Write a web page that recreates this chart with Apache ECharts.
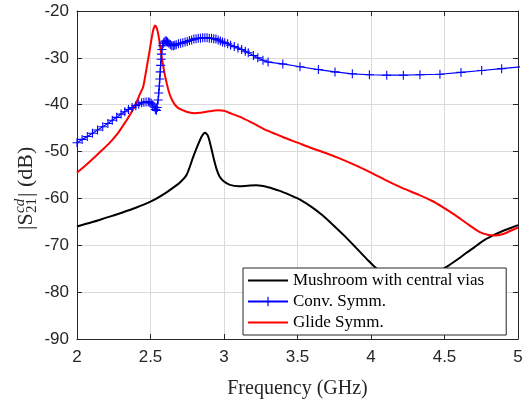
<!DOCTYPE html>
<html>
<head>
<meta charset="utf-8">
<script src="https://cdn.jsdelivr.net/npm/echarts@6/dist/echarts.min.js"></script>
<style>
  html, body { margin: 0; padding: 0; background: #fff; }
  #sChart { width: 532px; height: 404px; }
</style>
</head>
<body>
<div id="sChart"></div>
<script>
// 曲线数据 [频率 GHz, dB]
var mushroomData = [
    [2.00, -66.0], [2.10, -65.1], [2.20, -64.1], [2.30, -63.1], [2.40, -62.0],
    [2.50, -60.7], [2.58, -59.3], [2.65, -57.8], [2.70, -56.6], [2.745, -55.0],
    [2.79, -51.2], [2.82, -48.8], [2.85, -46.7], [2.871, -46.0], [2.89, -46.6],
    [2.91, -48.8], [2.93, -51.5], [2.95, -53.8], [2.97, -55.3], [3.00, -56.4],
    [3.04, -57.1], [3.10, -57.4], [3.16, -57.3], [3.22, -57.2], [3.30, -57.6],
    [3.38, -58.4], [3.45, -59.3], [3.52, -60.3], [3.60, -61.9], [3.67, -63.6],
    [3.74, -65.6], [3.82, -68.0], [3.90, -70.6], [3.97, -72.9], [4.05, -75.3],
    [4.15, -77.3], [4.25, -78.2], [4.35, -77.6], [4.45, -75.8], [4.52, -74.5],
    [4.58, -73.2], [4.65, -71.6], [4.70, -70.5], [4.76, -69.1], [4.83, -67.9],
    [4.90, -66.9], [4.95, -66.3], [5.00, -65.7]
];

var convData = [
    [2.000, -48.1], [2.035, -47.4], [2.070, -46.8], [2.105, -46.1], [2.140, -45.4],
    [2.175, -44.7], [2.210, -44.0], [2.240, -43.3], [2.270, -42.7], [2.300, -42.0],
    [2.325, -41.5], [2.350, -41.0], [2.375, -40.6], [2.400, -40.2], [2.420, -39.9],
    [2.440, -39.6], [2.455, -39.5], [2.470, -39.4], [2.485, -39.4], [2.495, -39.5],
    [2.505, -39.7], [2.515, -40.0], [2.525, -40.5], [2.533, -41.0], [2.540, -41.2],
    [2.546, -40.6], [2.552, -39.0], [2.556, -37.5], [2.560, -36.0], [2.563, -34.5],
    [2.566, -33.0], [2.569, -31.6], [2.572, -30.3], [2.575, -29.2], [2.578, -28.2],
    [2.582, -27.4], [2.587, -26.9], [2.593, -26.6], [2.600, -26.4], [2.608, -26.4],
    [2.616, -26.6], [2.625, -26.9], [2.635, -27.2], [2.645, -27.4], [2.655, -27.4],
    [2.665, -27.3], [2.675, -27.2], [2.690, -27.0], [2.705, -26.9], [2.720, -26.8],
    [2.735, -26.6], [2.750, -26.5], [2.765, -26.3], [2.780, -26.2], [2.795, -26.0],
    [2.810, -25.9], [2.825, -25.8], [2.840, -25.8], [2.855, -25.7], [2.870, -25.7],
    [2.885, -25.7], [2.900, -25.8], [2.915, -25.8], [2.930, -25.9], [2.945, -26.0],
    [2.960, -26.2], [2.975, -26.4], [2.990, -26.6], [3.005, -26.8], [3.025, -27.0],
    [3.045, -27.3], [3.070, -27.6], [3.095, -27.9], [3.120, -28.2], [3.145, -28.6],
    [3.165, -28.9], [3.200, -29.5], [3.230, -30.0], [3.265, -30.5], [3.300, -30.9],
    [3.400, -31.3], [3.517, -31.9], [3.642, -32.5], [3.755, -33.0], [3.873, -33.4],
    [3.989, -33.6], [4.107, -33.7], [4.220, -33.7], [4.333, -33.6], [4.469, -33.5],
    [4.612, -33.1], [4.753, -32.7], [4.889, -32.3], [5.025, -31.9]
];

var glideData = [
    [2.00, -54.5], [2.05, -53.2], [2.11, -51.5], [2.16, -50.0], [2.22, -48.2],
    [2.28, -46.0], [2.31, -44.6], [2.34, -43.2], [2.39, -40.5], [2.43, -37.6],
    [2.45, -36.2], [2.47, -32.8], [2.49, -29.2], [2.51, -25.4], [2.52, -23.9],
    [2.531, -23.1], [2.542, -23.6], [2.553, -25.0], [2.565, -27.4], [2.576, -29.8],
    [2.60, -34.0], [2.633, -38.0], [2.68, -40.5], [2.745, -41.5], [2.80, -41.8],
    [2.84, -41.7], [2.90, -41.4], [2.96, -41.2], [3.00, -41.3], [3.05, -41.9],
    [3.11, -42.6], [3.20, -44.0], [3.30, -45.6], [3.40, -46.9], [3.50, -48.1],
    [3.60, -49.3], [3.70, -50.4], [3.79, -51.5], [3.90, -53.0], [4.00, -54.5],
    [4.10, -56.1], [4.20, -57.6], [4.33, -59.3], [4.42, -60.6], [4.49, -61.9],
    [4.57, -63.5], [4.65, -65.3], [4.74, -67.2], [4.80, -67.8], [4.85, -67.9],
    [4.90, -67.6], [4.95, -66.9], [5.00, -66.2]
];

var seriesNames = ['Mushroom with central vias', 'Conv. Symm.', 'Glide Symm.'];
var seriesColors = ['#000000', '#0000ff', '#ff0000'];

var sParamChart = {

    chart : null,
    plusPath : 'path://M4.4,0H5.6V4.4H10V5.6H5.6V10H4.4V5.6H0V4.4H4.4Z',
    serifFont : '"Liberation Serif", "Times New Roman", serif',
    sansFont : '"Liberation Sans", Arial, sans-serif',

    init : function () {
        sParamChart.chart = echarts.init(document.getElementById('sChart'));
        sParamChart.loadChart(sParamChart.chart);
    },

    // 框线坐标轴（MATLAB风格，刻度朝内）
    buildAxis : function (type, position, showLabel) {
        var isX = type === 'x';
        return {
            type : 'value',
            position : position,
            min : isX ? 2 : -90,
            max : isX ? 5 : -20,
            interval : isX ? 0.5 : 10,
            axisLine : { show : true, onZero : false, lineStyle : { color : '#262626', width : 1 } },
            axisTick : { show : true, inside : true, length : 5, lineStyle : { color : '#262626' } },
            axisLabel : {
                show : showLabel,
                color : '#262626',
                fontSize : 17,
                fontFamily : sParamChart.sansFont,
                margin : isX ? 10 : 8
            },
            splitLine : { show : showLabel, lineStyle : { color : '#dadada', width : 1 } }
        };
    },

    buildSeries : function () {
        return [{
            name : seriesNames[0],
            type : 'line',
            data : mushroomData,
            symbol : 'none',
            smooth : 0.25,
            clip : true,
            lineStyle : { color : seriesColors[0], width : 2 },
            itemStyle : { color : seriesColors[0] }
        }, {
            name : seriesNames[1],
            type : 'line',
            data : convData,
            symbol : sParamChart.plusPath,
            symbolSize : 9,
            showAllSymbol : true,
            clip : true,
            lineStyle : { color : seriesColors[1], width : 1.2 },
            itemStyle : { color : seriesColors[1] }
        }, {
            name : seriesNames[2],
            type : 'line',
            data : glideData,
            symbol : 'none',
            smooth : 0.25,
            clip : true,
            lineStyle : { color : seriesColors[2], width : 2 },
            itemStyle : { color : seriesColors[2] }
        }];
    },

    loadChart : function (chart) {
        var xBottom = sParamChart.buildAxis('x', 'bottom', true);
        xBottom.name = 'Frequency (GHz)';
        xBottom.nameLocation = 'middle';
        xBottom.nameGap = 40;
        xBottom.nameTextStyle = { color : '#262626', fontSize : 20, fontFamily : sParamChart.serifFont };

        var option = {
            backgroundColor : '#fff',
            animation : false,
            grid : { left : 77, right : 14, top : 11, bottom : 55 },
            xAxis : [xBottom, sParamChart.buildAxis('x', 'top', false)],
            yAxis : [sParamChart.buildAxis('y', 'left', true), sParamChart.buildAxis('y', 'right', false)],
            legend : {
                orient : 'vertical',
                left : 243,
                top : 268,
                padding : [4, 22, 4, 4],
                itemWidth : 40,
                itemHeight : 12,
                itemGap : 4,
                backgroundColor : '#fff',
                borderColor : '#262626',
                borderWidth : 1,
                borderRadius : 0,
                // 黑、红曲线无标记点，图例中隐藏圆点
                data : [
                    { name : seriesNames[0], itemStyle : { opacity : 0 } },
                    { name : seriesNames[1] },
                    { name : seriesNames[2], itemStyle : { opacity : 0 } }
                ],
                textStyle : { color : '#000', fontSize : 17, fontFamily : sParamChart.serifFont }
            },
            // 纵轴标题 |S^{cd}_{21}| (dB)
            graphic : [{
                type : 'group',
                x : 26,
                y : 184,
                rotation : Math.PI / 2,
                children : [{
                    type : 'text', x : -46, y : 0,
                    style : { text : '|S', font : '22px ' + sParamChart.serifFont, fill : '#262626', textAlign : 'left', textVerticalAlign : 'middle' }
                }, {
                    type : 'text', x : -29, y : -6,
                    style : { text : 'cd', font : 'italic 15px ' + sParamChart.serifFont, fill : '#262626', textAlign : 'left', textVerticalAlign : 'middle' }
                }, {
                    type : 'text', x : -29, y : 6,
                    style : { text : '21', font : '15px ' + sParamChart.serifFont, fill : '#262626', textAlign : 'left', textVerticalAlign : 'middle' }
                }, {
                    type : 'text', x : -13, y : 0,
                    style : { text : '| (dB)', font : '22px ' + sParamChart.serifFont, fill : '#262626', textAlign : 'left', textVerticalAlign : 'middle' }
                }]
            }],
            series : sParamChart.buildSeries()
        };
        chart.setOption(option);
    }
};

sParamChart.init();
</script>
</body>
</html>
